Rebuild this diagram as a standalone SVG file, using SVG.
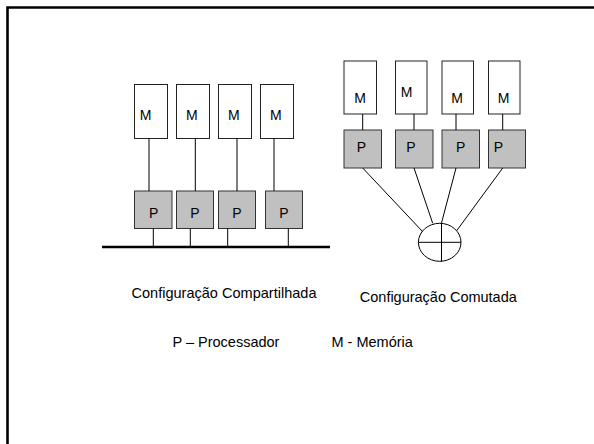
<svg xmlns="http://www.w3.org/2000/svg" width="594" height="444" viewBox="0 0 594 444">
<style>
.m{fill:#fff;stroke:#222;stroke-width:1}
.p{fill:#c0c0c0;stroke:#333;stroke-width:1}
.lbl{font-family:"Liberation Sans",Arial,sans-serif;font-size:14px;fill:#000}
.cap{font-family:"Liberation Sans",Arial,sans-serif;font-size:14.5px;fill:#000}
.ln{stroke:#000;stroke-width:1;fill:none}
</style>
<rect width="594" height="444" fill="#fff"/>
<path d="M7.5,444 V7.5 H594" fill="none" stroke="#000" stroke-width="2.6"/>
<!-- Left: shared configuration -->
<g id="lm1"><rect class="m" x="134.5" y="84.5" width="33" height="54"/><text class="lbl" x="139.7" y="120">M</text></g>
<g id="lm2"><rect class="m" x="176.5" y="84.5" width="33" height="54"/><text class="lbl" x="186" y="120">M</text></g>
<g id="lm3"><rect class="m" x="218.5" y="84.5" width="33" height="54"/><text class="lbl" x="228" y="120">M</text></g>
<g id="lm4"><rect class="m" x="260.5" y="84.5" width="33" height="54"/><text class="lbl" x="270" y="120">M</text></g>
<g id="lp1"><rect class="p" x="134.5" y="191" width="37.5" height="37.5"/><text class="lbl" x="149" y="217.7">P</text></g>
<g id="lp2"><rect class="p" x="176.5" y="191" width="37" height="37.5"/><text class="lbl" x="190.3" y="217.7">P</text></g>
<g id="lp3"><rect class="p" x="218.5" y="191" width="37" height="37.5"/><text class="lbl" x="232.3" y="217.7">P</text></g>
<g id="lp4"><rect class="p" x="265.5" y="191" width="37" height="37.5"/><text class="lbl" x="279.3" y="217.7">P</text></g>
<g id="bus"><line x1="102" y1="247" x2="330" y2="247" stroke="#000" stroke-width="2.6"/></g>
<!-- Right: switched configuration -->
<g id="rm1"><rect class="m" x="344" y="61" width="32.5" height="53"/><text class="lbl" x="354.3" y="103.3">M</text></g>
<g id="rm2"><rect class="m" x="395.5" y="61" width="31.5" height="53"/><text class="lbl" x="400.7" y="97.3">M</text></g>
<g id="rm3"><rect class="m" x="442" y="61" width="31.5" height="53"/><text class="lbl" x="451.3" y="103.3">M</text></g>
<g id="rm4"><rect class="m" x="488.5" y="61" width="31.5" height="53"/><text class="lbl" x="497.7" y="103.3">M</text></g>
<g id="rp1"><rect class="p" x="344" y="130" width="37.5" height="38"/><text class="lbl" x="356.7" y="151.7">P</text></g>
<g id="rp2"><rect class="p" x="395.5" y="130" width="37.5" height="38"/><text class="lbl" x="406.3" y="151.7">P</text></g>
<g id="rp3"><rect class="p" x="442" y="130" width="37.5" height="38"/><text class="lbl" x="456" y="151.7">P</text></g>
<g id="rp4"><rect class="p" x="488.5" y="130" width="37" height="38"/><text class="lbl" x="493.7" y="151.7">P</text></g>
<g id="switch"><ellipse cx="439.7" cy="242.3" rx="21.3" ry="19" fill="#fff" stroke="#000" stroke-width="1"/><line class="ln" x1="418.4" y1="242.3" x2="461" y2="242.3"/><line class="ln" x1="441.5" y1="223" x2="441.5" y2="261.5"/></g>
<g id="connectors">
<line class="ln" x1="149" y1="138.5" x2="149" y2="191"/>
<line class="ln" x1="195.3" y1="138.5" x2="195.3" y2="191"/>
<line class="ln" x1="237" y1="138.5" x2="237" y2="191"/>
<line class="ln" x1="274" y1="138.5" x2="274" y2="191"/>
<line class="ln" x1="153.3" y1="228.5" x2="153.3" y2="246"/>
<line class="ln" x1="190.3" y1="228.5" x2="190.3" y2="246"/>
<line class="ln" x1="227.7" y1="228.5" x2="227.7" y2="246"/>
<line class="ln" x1="288.3" y1="228.5" x2="288.3" y2="246"/>
<line class="ln" x1="362.7" y1="114" x2="362.7" y2="130"/>
<line class="ln" x1="414" y1="114" x2="414" y2="130"/>
<line class="ln" x1="456" y1="114" x2="456" y2="130"/>
<line class="ln" x1="502.7" y1="114" x2="502.7" y2="130"/>
<line class="ln" x1="362.7" y1="168" x2="422.7" y2="231.7"/>
<line class="ln" x1="414" y1="168" x2="432.7" y2="223.3"/>
<line class="ln" x1="456" y1="168" x2="441.5" y2="223"/>
<line class="ln" x1="502.7" y1="168" x2="456.7" y2="230.7"/>
</g>
<text class="cap" x="131.5" y="297.7" textLength="185">Configuração Compartilhada</text>
<text class="cap" x="359.8" y="302.3" textLength="157">Configuração Comutada</text>
<text class="cap" x="172.5" y="346.7">P – Processador</text>
<text class="cap" x="331.5" y="346.7">M - Memória</text>
</svg>
